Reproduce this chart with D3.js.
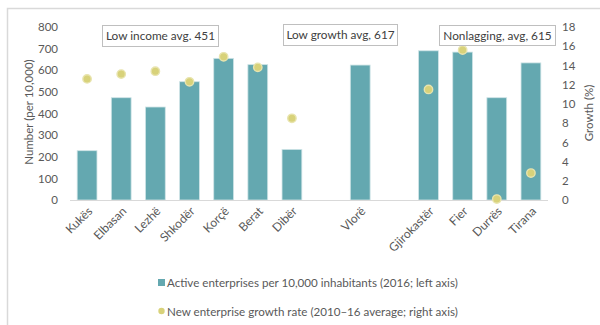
<!DOCTYPE html>
<html><head><meta charset="utf-8">
<script src="https://cdn.jsdelivr.net/npm/d3@7"></script>
<style>
html,body{margin:0;padding:0;background:#fff;}
svg{display:block;font-family:Lato, "Open Sans", sans-serif;}
</style></head>
<body>
<svg id="chart" width="600" height="325"></svg>
<script>
const categories = ["Kukës","Elbasan","Lezhë","Shkodër","Korçë","Berat","Dibër","","Vlorë","","Gjirokastër","Fier","Durrës","Tirana"];
const enterprises = [228,473,430,547,655,626,234,null,624,null,690,684,473,634];
const growth = [12.6,13.1,13.4,12.3,14.9,13.8,8.5,null,null,null,11.5,15.6,0.1,2.8];
const leftTicks = [0,100,200,300,400,500,600,700,800];
const rightTicks = [0,2,4,6,8,10,12,14,16,18];
const groupLabels = ["Low income avg. 451","Low growth avg, 617","Nonlagging, avg, 615"];
const legendLabels = ["Active enterprises per 10,000 inhabitants (2016; left axis)","New enterprise growth rate (2010–16 average; right axis)"];

const barColor = "#64a8b0", dotColor = "#d8d27a", textColor = "#595959";
const svg = d3.select("#chart");

// outer frame
svg.append("path").attr("d","M7.5,330 V8.5 H610").attr("fill","none").attr("stroke","#d9d9d9").attr("stroke-width",1.5);

const x = d3.scaleBand().domain(d3.range(categories.length)).range([70,548]).paddingInner(0.42).paddingOuter(0.21);
const yL = d3.scaleLinear().domain([0,800]).range([200,27]);
const yR = d3.scaleLinear().domain([0,18]).range([200,27]);

// left axis
const axL = svg.append("g").attr("transform","translate(70,0)")
  .call(d3.axisLeft(yL).tickValues(leftTicks).tickSize(0).tickPadding(12));
axL.select(".domain").remove();
axL.selectAll("text").attr("fill",textColor).style("font-size","11.5px").style("font-family","Lato");

// right axis
const axR = svg.append("g").attr("transform","translate(548,0)")
  .call(d3.axisRight(yR).tickValues(rightTicks).tickSize(0).tickPadding(14));
axR.select(".domain").remove();
axR.selectAll("text").attr("fill",textColor).style("font-size","11.5px").style("font-family","Lato");

// bars
svg.append("g").selectAll("rect")
  .data(enterprises.map((v,i)=>({v,i})).filter(d=>d.v!==null))
  .join("rect")
  .attr("x",d=>x(d.i)).attr("width",x.bandwidth())
  .attr("y",d=>yL(d.v)).attr("height",d=>yL(0)-yL(d.v))
  .attr("fill",barColor).attr("stroke","#cfe4e6").attr("stroke-width",0.8);

// baseline
svg.append("line").attr("x1",70).attr("x2",548).attr("y1",yL(0)+0.5).attr("y2",yL(0)+0.5)
  .attr("stroke","#d9d9d9").attr("stroke-width",1.2);

// dots
svg.append("g").selectAll("circle")
  .data(growth.map((v,i)=>({v,i})).filter(d=>d.v!==null))
  .join("circle")
  .attr("cx",d=>x(d.i)+x.bandwidth()/2).attr("cy",d=>yR(d.v))
  .attr("r",4.2).attr("fill",dotColor).attr("stroke","#e8e4ae").attr("stroke-width",1.4);

// category labels
svg.append("g").selectAll("text")
  .data(categories.map((c,i)=>({c,i})).filter(d=>d.c!==""))
  .join("text")
  .attr("transform",d=>`translate(${x(d.i)+x.bandwidth()/2+6},${212}) rotate(-45)`)
  .attr("text-anchor","end").attr("fill",textColor)
  .style("font-size","12px").text(d=>d.c);

// axis titles
svg.append("text").attr("transform","translate(33,112) rotate(-90)").attr("text-anchor","middle")
  .attr("fill",textColor).style("font-size","11.5px").text("Number (per 10,000)");
svg.append("text").attr("transform","translate(593,113) rotate(-90)").attr("text-anchor","middle")
  .attr("fill",textColor).style("font-size","11.5px").text("Growth (%)");

// group annotation boxes
const boxes = [[102,25,116,21],[283,24,114,21],[439,25,116,20]];
groupLabels.forEach((t,k)=>{
  const [bx,by,bw,bh] = boxes[k];
  svg.append("rect").attr("x",bx+0.5).attr("y",by+0.5).attr("width",bw).attr("height",bh)
    .attr("fill","#fff").attr("stroke","#bfbfbf").attr("stroke-width",1);
  svg.append("text").attr("x",bx+bw/2+0.5).attr("y",by+bh/2+0.5).attr("dy","0.35em")
    .attr("text-anchor","middle").attr("fill","#404040").style("font-size","11.8px").text(t);
});

// legend
svg.append("rect").attr("x",158).attr("y",279).attr("width",7).attr("height",7).attr("fill",barColor);
svg.append("text").attr("x",167).attr("y",283).attr("dy","0.35em").attr("fill",textColor)
  .style("font-size","11.6px").text(legendLabels[0]);
svg.append("circle").attr("cx",161.5).attr("cy",311).attr("r",3.2).attr("fill",dotColor);
svg.append("text").attr("x",167).attr("y",312).attr("dy","0.35em").attr("fill",textColor)
  .style("font-size","11.6px").text(legendLabels[1]);
</script>
</body></html>
